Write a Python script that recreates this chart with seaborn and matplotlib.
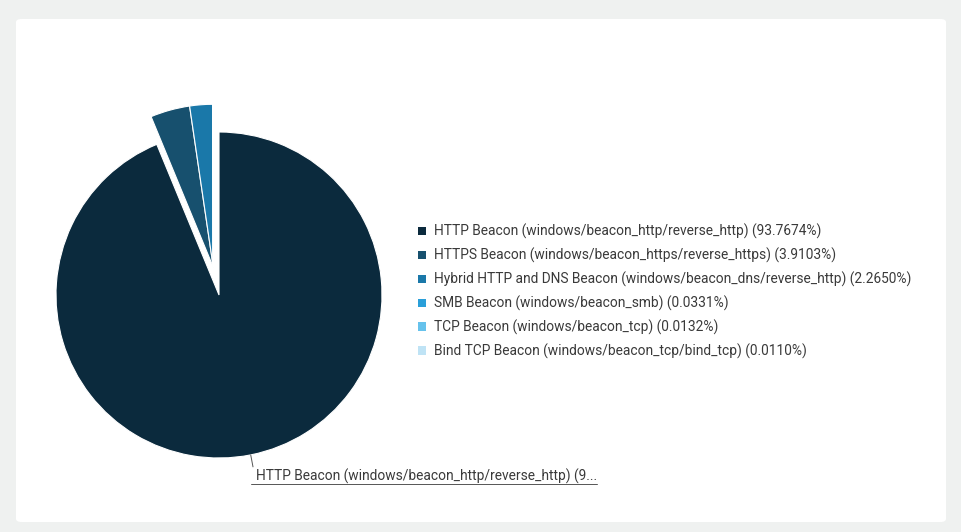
import numpy as np
import matplotlib
matplotlib.use("Agg")
import matplotlib.pyplot as plt
import seaborn as sns
from matplotlib.patches import FancyBboxPatch, Patch
from matplotlib.lines import Line2D

# Beacon types and their share (%)
labels = [
    "HTTP Beacon (windows/beacon_http/reverse_http)",
    "HTTPS Beacon (windows/beacon_https/reverse_https)",
    "Hybrid HTTP and DNS Beacon (windows/beacon_dns/reverse_http)",
    "SMB Beacon (windows/beacon_smb)",
    "TCP Beacon (windows/beacon_tcp)",
    "Bind TCP Beacon (windows/beacon_tcp/bind_tcp)",
]
shares = [93.7674, 3.9103, 2.2650, 0.0331, 0.0132, 0.0110]
colors = ["#0b2a3d", "#17506e", "#1a78a9", "#2a9fd9", "#66c2ec", "#bfe3f5"]

sns.set_theme(style="white")
plt.rcParams["font.family"] = ["Roboto", "DejaVu Sans"]
text_color = "#3a3a3a"

W, H = 961, 532
fig = plt.figure(figsize=(W / 100, H / 100), dpi=100)
fig.patch.set_facecolor("#eff1f0")

# white card
card = FancyBboxPatch((16 / W, 10 / H), 930 / W, 503 / H,
                      boxstyle="round,pad=0,rounding_size=0.006",
                      transform=fig.transFigure, facecolor="white",
                      edgecolor="none", zorder=-5)
fig.patches.append(card)

# pie axes: center (219, 295) px, radius 163 px
cx, cy, r = 219, 295, 163
ax = fig.add_axes([(cx - r) / W, (H - cy - r) / H, 2 * r / W, 2 * r / H])
ax.set_zorder(2)
ax.patch.set_visible(False)

wedges, _ = ax.pie(shares, colors=colors, startangle=90, counterclock=False,
                   radius=1.0, wedgeprops=dict(edgecolor="white", linewidth=0.8))
ax.set_xlim(-1, 1)
ax.set_ylim(-1, 1)
ax.set_aspect("equal")
ax.axis("off")

# the small slices are pulled out together
for w in wedges[1:]:
    w.set_center((-0.035, 0.17))

# leader label on the big slice
w0 = wedges[0]
mid = np.deg2rad((w0.theta1 + w0.theta2) / 2)
pt = (np.cos(mid), np.sin(mid))
lbl = f"{labels[0]} ({shares[0]:.4f}%)"
lbl = lbl[:49] + "..."
ann = ax.annotate(lbl, xy=pt, xytext=(4, -21), textcoords="offset points",
                  ha="left", va="bottom", fontsize=9.9, color=text_color,
                  annotation_clip=False,
                  arrowprops=dict(arrowstyle="-", color="#555555", lw=0.7,
                                  shrinkA=0, shrinkB=0, relpos=(0, 0)))
fig.canvas.draw()
bb = ann.get_window_extent()
fig.lines.append(Line2D([bb.x0 / W, bb.x1 / W], [bb.y0 / H, bb.y0 / H],
                        transform=fig.transFigure, color="#555555", lw=0.7,
                        zorder=3))

# legend
handles = [Patch(facecolor=c, edgecolor="none") for c in colors]
leg_labels = [f"{l} ({s:.4f}%)" for l, s in zip(labels, shares)]
fig.legend(handles, leg_labels, loc="upper left",
           bbox_to_anchor=(418 / W, 1 - 224 / H), frameon=False,
           fontsize=9.9, labelcolor=text_color, handlelength=0.55,
           handleheight=0.55, handletextpad=0.6, labelspacing=0.62,
           borderaxespad=0, borderpad=0)

fig.savefig("out.png", dpi=100, facecolor=fig.get_facecolor())
